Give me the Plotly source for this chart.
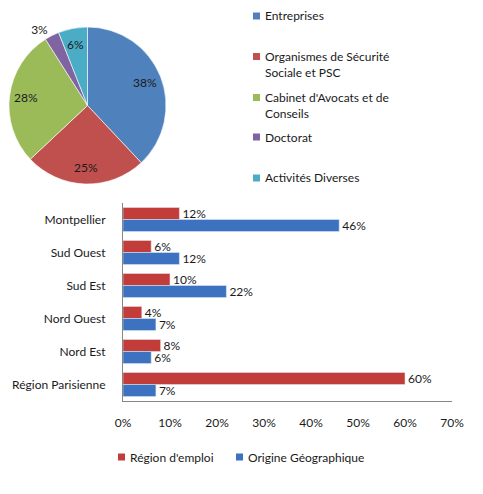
import math
import plotly.graph_objects as go

W, H = 483, 494

# Pie data
pie_labels = ["Entreprises", "Organismes de Sécurité Sociale et PSC",
              "Cabinet d'Avocats et de Conseils", "Doctorat", "Activités Diverses"]
pie_legend_text = ["Entreprises", "Organismes de Sécurité<br>Sociale et PSC",
                   "Cabinet d'Avocats et de<br>Conseils", "Doctorat", "Activités Diverses"]
pie_values = [38, 25, 28, 3, 6]
pie_colors = ["#4F81BD", "#C0504D", "#9BBB59", "#8064A2", "#4BACC6"]
pie_outside = [False, False, False, True, False]

# Bar data
regions = ["Montpellier", "Sud Ouest", "Sud Est", "Nord Ouest", "Nord Est", "Région Parisienne"]
region_emploi = [12, 6, 10, 4, 8, 60]
origine_geo = [46, 12, 22, 7, 6, 7]
x_ticks = [0, 10, 20, 30, 40, 50, 60, 70]
bar_series = ["Région d'emploi", "Origine Géographique"]
bar_colors = ["#C23D3A", "#3C72BF"]

FONT = "Lato"
TXT = "#1a1a1a"

# pie geometry (pixels)
PCX, PCY, PR = 87.5, 105.5, 78.5
pie_dom_x = [(PCX - PR) / W, (PCX + PR) / W]
pie_dom_y = [1 - (PCY + PR) / H, 1 - (PCY - PR) / H]

fig = go.Figure()

fig.add_trace(go.Pie(
    labels=pie_labels, values=pie_values, sort=False, direction="clockwise",
    rotation=0, marker=dict(colors=pie_colors, line=dict(color="white", width=0.6)),
    texttemplate=["%{value}%" if o else "" for o in pie_outside],
    textposition=["outside" if o else "none" for o in pie_outside],
    textfont=dict(family=FONT, size=12, color=TXT),
    domain=dict(x=pie_dom_x, y=pie_dom_y), automargin=False,
    showlegend=False, hoverinfo="label+percent",
))

annotations = []
shapes = []
# inside pie labels placed at ~0.79 r along each slice's mid angle
total = sum(pie_values)
cum = 0
for v, o in zip(pie_values, pie_outside):
    mid = (cum + v / 2) / total * 2 * math.pi
    cum += v
    if o:
        continue
    px = PCX + 0.79 * PR * math.sin(mid)
    py = PCY - 0.79 * PR * math.cos(mid)
    annotations.append(dict(text=f"{v}%", xref="paper", yref="paper", x=px / W, y=1 - py / H,
                            xanchor="center", yanchor="middle", showarrow=False,
                            font=dict(family=FONT, size=12, color=TXT)))

for name, vals, col in zip(bar_series, [region_emploi, origine_geo], bar_colors):
    fig.add_trace(go.Bar(
        y=regions, x=vals, name=name, orientation="h",
        marker=dict(color=col), text=[f"{v}%" for v in vals],
        textposition="outside", constraintext="none",
        textfont=dict(family=FONT, size=12, color=TXT),
        cliponaxis=False, showlegend=False,
    ))

# Pie legend (manual)
legend_y = [16, 64, 105, 137, 178]
for txt, col, yy in zip(pie_legend_text, pie_colors, legend_y):
    fy = yy if "<br>" not in txt else yy - 7.5
    shapes.append(dict(type="rect", xref="paper", yref="paper",
                       x0=253 / W, x1=260 / W,
                       y0=1 - (fy + 3.5) / H, y1=1 - (fy - 3.5) / H,
                       fillcolor=col, line=dict(width=0)))
    annotations.append(dict(text=txt, xref="paper", yref="paper", x=263 / W, y=1 - yy / H,
                            xanchor="left", yanchor="middle", showarrow=False, align="left",
                            font=dict(family=FONT, size=12, color=TXT)))

# Bar legend (manual)
for name, col, lx in zip(bar_series, bar_colors, [118, 236]):
    ly = 457
    shapes.append(dict(type="rect", xref="paper", yref="paper",
                       x0=lx / W, x1=(lx + 7) / W,
                       y0=1 - (ly + 3.5) / H, y1=1 - (ly - 3.5) / H,
                       fillcolor=col, line=dict(width=0)))
    annotations.append(dict(text=name, xref="paper", yref="paper", x=(lx + 10) / W, y=1 - ly / H,
                            xanchor="left", yanchor="middle", showarrow=False,
                            font=dict(family=FONT, size=12, color=TXT)))

fig.update_layout(
    width=W, height=H, margin=dict(l=0, r=0, t=0, b=0, pad=0),
    paper_bgcolor="white", plot_bgcolor="white",
    barmode="group", bargap=0.27, bargroupgap=0,
    font=dict(family=FONT, size=12, color=TXT),
    xaxis=dict(domain=[123 / W, 452 / W], range=[0, 70], tickvals=x_ticks,
               ticktext=[f"{v}%" for v in x_ticks], showgrid=False, zeroline=False,
               showline=True, linecolor="#868686", linewidth=1, ticks="", automargin=False,
               ticklabelstandoff=11, tickfont=dict(family=FONT, size=12, color=TXT)),
    yaxis=dict(domain=[1 - 401 / H, 1 - 203 / H], autorange="reversed", showgrid=False,
               showline=True, linecolor="#868686", linewidth=1, ticks="", automargin=False,
               ticklabelstandoff=14, tickfont=dict(family=FONT, size=12, color=TXT)),
    showlegend=False,
    shapes=shapes, annotations=annotations,
)

fig.write_html("out.html", config={"displayModeBar": False},
               post_script="document.body.style.margin='0';document.body.style.overflow='hidden';")
